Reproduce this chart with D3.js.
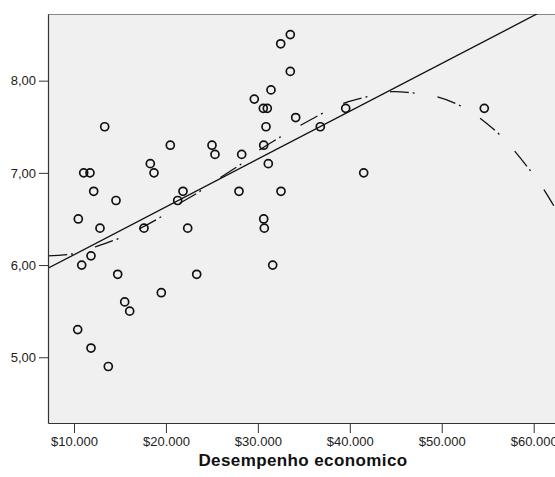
<!DOCTYPE html>
<html>
<head>
<meta charset="utf-8">
<script src="https://cdn.jsdelivr.net/npm/d3@7"></script>
<style>
  body { margin: 0; background: #fff; }
  .axis text { font-family: "Liberation Sans", Arial, sans-serif; font-size: 13px; fill: #222; }
  .axis path, .axis line { stroke: #333; }
</style>
</head>
<body>
<div id="chart"></div>
<script>
// values
var econX = [33527, 32483, 33527, 31428, 29611, 30590, 31025, 34114, 30884, 36791,
             39553, 54628, 13339, 20475, 25010, 30634, 25336, 28241, 31134, 18299,
             18702, 11055, 11740, 41511, 12143, 21856, 27947, 32515, 14568, 21279,
             10468, 30634, 12828, 17614, 22367, 30699, 11849, 10838, 31613, 14753,
             23346, 19496, 15515, 16058, 10402, 11849, 13731];
var scoreY = [8.5, 8.4, 8.1, 7.9, 7.8, 7.7, 7.7, 7.6, 7.5, 7.5,
              7.7, 7.7, 7.5, 7.3, 7.3, 7.3, 7.2, 7.2, 7.1, 7.1,
              7.0, 7.0, 7.0, 7.0, 6.8, 6.8, 6.8, 6.8, 6.7, 6.7,
              6.5, 6.5, 6.4, 6.4, 6.4, 6.4, 6.1, 6.0, 6.0, 5.9,
              5.9, 5.7, 5.6, 5.5, 5.3, 5.1, 4.9];

// linear fit (end points)
var fitX = [7172, 62645];
var fitY = [5.965, 8.843];

// cubic fit
var curveX = [7172, 9782, 12393, 14895, 16853, 19572, 21203, 23379, 26098, 28382,
              29905, 32624, 34364, 37301, 39476, 42087, 44589, 46547, 49266, 51768,
              53943, 56554, 57641, 59817, 61231, 62319];
var curveY = [6.10, 6.12, 6.20, 6.29, 6.38, 6.53, 6.65, 6.78, 6.96, 7.11,
              7.23, 7.40, 7.50, 7.66, 7.76, 7.83, 7.88, 7.87, 7.83, 7.74,
              7.61, 7.39, 7.27, 7.00, 6.80, 6.62];

var xTicks = [10000, 20000, 30000, 40000, 50000, 60000];
var yTicks = [5, 6, 7, 8];

var W = 555, H = 477;
var margin = {top: 14, left: 48, right: -3, bottom: 54};
var width = W - margin.left - margin.right,
    height = H - margin.top - margin.bottom;

var x = d3.scaleLinear().domain([7172, 62645]).range([0, width]);
var y = d3.scaleLinear().domain([4.287, 8.723]).range([height, 0]);

var svg = d3.select('#chart').append('svg')
    .attr('width', W)
    .attr('height', H);

svg.append('defs').append('clipPath')
    .attr('id', 'plotClip')
  .append('rect')
    .attr('width', width)
    .attr('height', height);

var g = svg.append('g')
    .attr('transform', 'translate(' + margin.left + ',' + margin.top + ')');

// plot background
g.append('rect')
    .attr('width', width)
    .attr('height', height)
    .attr('fill', '#f0f0f0');

// top frame line
g.append('line')
    .attr('x1', 0).attr('x2', width)
    .attr('y1', 0.5).attr('y2', 0.5)
    .attr('stroke', '#888');

var plot = g.append('g').attr('clip-path', 'url(#plotClip)');

// linear fit
var line = d3.line()
    .x(function(d) { return x(d[0]); })
    .y(function(d) { return y(d[1]); });

plot.append('path')
    .datum(d3.zip(fitX, fitY))
    .attr('d', line)
    .attr('fill', 'none')
    .attr('stroke', '#111')
    .attr('stroke-width', 1.3);

// cubic fit, dash-dot
plot.append('path')
    .datum(d3.zip(curveX, curveY))
    .attr('d', line.curve(d3.curveCatmullRom))
    .attr('fill', 'none')
    .attr('stroke', '#111')
    .attr('stroke-width', 1.3)
    .attr('stroke-dasharray', '19,4,2,23');

// points
plot.selectAll('.dot')
    .data(d3.zip(econX, scoreY))
    .enter().append('circle')
    .attr('class', 'dot')
    .attr('cx', function(d) { return x(d[0]); })
    .attr('cy', function(d) { return y(d[1]); })
    .attr('r', 4)
    .attr('fill', 'none')
    .attr('stroke', '#111')
    .attr('stroke-width', 1.7);

// axes
var fmtX = function(d) { return '$' + d3.format(',')(d).replace(/,/g, '.'); };
var fmtY = function(d) { return d3.format('.2f')(d).replace('.', ','); };

g.append('g')
    .attr('class', 'axis')
    .attr('transform', 'translate(0,' + height + ')')
    .call(d3.axisBottom(x).tickValues(xTicks).tickFormat(fmtX)
      .tickSizeInner(10).tickSizeOuter(0).tickPadding(4));

g.append('g')
    .attr('class', 'axis')
    .call(d3.axisLeft(y).tickValues(yTicks).tickFormat(fmtY)
      .tickSizeInner(9).tickSizeOuter(0).tickPadding(3));

g.selectAll('.axis path.domain').attr('stroke-width', 1.2);

// x axis label
svg.append('text')
    .attr('x', 303)
    .attr('y', 466)
    .attr('text-anchor', 'middle')
    .style('font-family', '"Liberation Sans", Arial, sans-serif')
    .style('font-size', '17px')
    .style('font-weight', 'bold')
    .style('letter-spacing', '0.4px')
    .attr('fill', '#111')
    .text('Desempenho economico');
</script>
</body>
</html>
